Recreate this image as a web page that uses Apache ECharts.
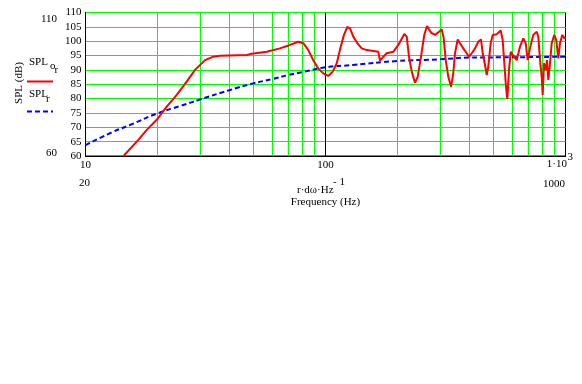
<!DOCTYPE html>
<html>
<head>
<meta charset="utf-8">
<script src="https://cdn.jsdelivr.net/npm/echarts@6/dist/echarts.min.js"></script>
<style>html,body{margin:0;padding:0;background:#fff}#c{width:582px;height:384px}</style>
</head>
<body>
<div id="c"></div>
<script>
// SPL_o_r (red) : frequency (Hz) and level (dB)
var freqOr = [14.4,16.6,18.0,19.9,21.8,24.0,26.4,28.6,31.5,34.1,36.3,47.0,48.5,56.9,64.6,71.1,77.0,80.8,84.8,88.9,93.3,
  94.9,97.9,102.7,107.2,111.4,115.7,119.4,123.3,126.5,130.6,135.7,141.5,148.5,158.2,166,168.7,174.1,179.9,191.6,201.1,
  204.4,213,218,222.8,228.7,236,242.2,250,258,264.8,275.2,286,297.2,305,310.9,316.9,324.9,333.4,340.8,346.4,355.5,363.4,375.2,387.6,396.3,406.7,419.7,
  433.2,444.6,451.9,462,469.6,476.8,487.9,497.4,516.8,537,547.4,555.9,565.1,572.2,581.6,591.2,602.6,616,626.2,
  646.2,667.1,682.7,695.8,711.4,734.2,758.6,770.4,783.1,795.8,803.5,813.6,827,837.4,847.9,859.5,876.1,898.3,915.5,933.3,948.6,969.8,988.6,1000];
var splOr = [60,65.6,69.1,72.8,77.2,81.3,85.9,90,93.4,94.6,94.95,95.2,95.5,96.3,97.5,98.7,99.8,99.3,96.9,93.4,90.5,
  90.5,88.8,87.9,89.4,92.3,98.1,102.2,105,104.5,101.6,99.3,97.5,96.9,96.6,96.3,93.2,94.6,95.8,96.3,98.7,
  99.3,102.5,101.6,94.6,89.4,85.5,87.6,94.6,102.2,105.3,103,102.2,103.3,104.1,101,93.4,87.6,84.1,88.8,95.8,100.6,99.3,97.5,95.8,94.6,95.8,97.5,
  99.8,100.6,95.8,91.7,88.2,91.1,99.3,102.2,102.4,103.7,100.4,92.3,84.1,79.8,90,96.3,96.9,94.1,93.4,
  98.1,101,99.3,93.4,97.5,102.2,103.3,101.6,93.4,87.6,81.3,92.3,90,93.4,86.5,91.1,99.3,102.2,100.4,94,99.3,102.2,101,101.5];
// SPL_r (blue dashed)
var freqR = [10,13,15.3,20,25,30,40,50,60,70,80,100,130,200,300,400,600,1000];
var splR = [63.8,68.4,70.8,74.9,77.5,79.7,83,85.3,86.8,88.2,89.2,90.9,91.7,93.1,93.7,94.3,94.4,94.6];
// vertical grid frequencies
var gridFreqs = [20,30,40,50,60,70,80,90,200,300,400,500,600,700,800,900];
var blackFreqs = [100];
var yTicks = {min:60, max:110, step:5};
var xTickLabels = {10:'10', 100:'100'};

function zip(a,b){return a.map(function(v,i){return [v,b[i]];});}
var FONT = 'Liberation Serif, Times New Roman, serif';
var GREEN = '#00ff00';
function vlineSeries(freqs, color, z){
  return {type:'custom', silent:true, z:z, clip:false,
    data: freqs.map(function(f){return [f, yTicks.min];}),
    renderItem:function(params, api){
      var top = api.coord([api.value(0), yTicks.max]);
      var bot = api.coord([api.value(0), yTicks.min]);
      var x = Math.round(top[0]-0.5)+0.5;
      return {type:'line', shape:{x1:x, y1:top[1], x2:x, y2:bot[1]}, style:{stroke:color, lineWidth:1}};
    }};
}
var chart = echarts.init(document.getElementById('c'), null, {renderer:'canvas'});
chart.setOption({
  animation:false,
  grid:{left:85.5, right:16.5, top:12.5, bottom:228, show:true, borderColor:'#000', borderWidth:1, backgroundColor:'transparent'},
  xAxis:{type:'log', logBase:10, min:10, max:1000,
    axisLine:{show:true, lineStyle:{color:'#000'}}, axisTick:{show:false},
    splitLine:{show:false}, minorSplitLine:{show:false}, minorTick:{show:false},
    axisLabel:{margin:4, color:'#000', fontFamily:FONT, fontSize:11,
      formatter:function(v){ var k = Math.round(v); return xTickLabels[k] || ''; }}
  },
  yAxis:{type:'value', min:yTicks.min, max:yTicks.max, interval:yTicks.step,
    axisLine:{show:true, lineStyle:{color:'#000'}}, axisTick:{show:false},
    splitLine:{show:true, lineStyle:{color:GREEN, width:1}},
    axisLabel:{margin:4, color:'#000', fontFamily:FONT, fontSize:11}
  },
  series:[
    vlineSeries(gridFreqs, GREEN, 1),
    vlineSeries(blackFreqs, '#000000', 1),
    {type:'line', name:'SPLr', data:zip(freqR,splR), smooth:true, showSymbol:false, z:3,
      lineStyle:{color:'#0000ff', width:2, type:[5,3]}},
    {type:'line', name:'SPLor', data:zip(freqOr,splOr), smooth:false, showSymbol:false, z:4,
      lineStyle:{color:'#ff0000', width:2}}
  ],
  graphic:[
    {type:'text', x:567, y:164.5, style:{text:'1·10', font:'11px '+FONT, fill:'#000', align:'right', verticalAlign:'middle'}},
    {type:'text', x:567.5, y:157, style:{text:'3', font:'11px '+FONT, fill:'#000', align:'left', verticalAlign:'middle'}},
    {type:'text', x:57, y:19.5, style:{text:'110', font:'11px '+FONT, fill:'#000', align:'right', verticalAlign:'middle'}},
    {type:'text', x:57, y:153.5, style:{text:'60', font:'11px '+FONT, fill:'#000', align:'right', verticalAlign:'middle'}},
    {type:'text', x:79, y:183.5, style:{text:'20', font:'11px '+FONT, fill:'#000', align:'left', verticalAlign:'middle'}},
    {type:'text', x:565, y:184, style:{text:'1000', font:'11px '+FONT, fill:'#000', align:'right', verticalAlign:'middle'}},
    {type:'text', x:297, y:190, style:{text:'r·dω·Hz', font:'11px '+FONT, fill:'#000', align:'left', verticalAlign:'middle'}},
    {type:'text', x:333, y:182.5, style:{text:'- 1', font:'11px '+FONT, fill:'#000', align:'left', verticalAlign:'middle'}},
    {type:'text', x:325.5, y:202.5, style:{text:'Frequency (Hz)', font:'11px '+FONT, fill:'#000', align:'center', verticalAlign:'middle'}},
    {type:'text', x:19, y:83, rotation:Math.PI/2, style:{text:'SPL (dB)', font:'11px '+FONT, fill:'#000', align:'center', verticalAlign:'middle'}},
    {type:'text', x:29, y:62, style:{text:'SPL', font:'11px '+FONT, fill:'#000', align:'left', verticalAlign:'middle'}},
    {type:'text', x:50, y:66.5, style:{text:'o', font:'11px '+FONT, fill:'#000', align:'left', verticalAlign:'middle'}},
    {type:'text', x:54.5, y:70.5, style:{text:'r', font:'11px '+FONT, fill:'#000', align:'left', verticalAlign:'middle'}},
    {type:'line', shape:{x1:27, y1:81.5, x2:53, y2:81.5}, style:{stroke:'#ff0000', lineWidth:2}},
    {type:'text', x:29, y:94, style:{text:'SPL', font:'11px '+FONT, fill:'#000', align:'left', verticalAlign:'middle'}},
    {type:'text', x:46, y:99.5, style:{text:'r', font:'11px '+FONT, fill:'#000', align:'left', verticalAlign:'middle'}},
    {type:'line', shape:{x1:27, y1:111.5, x2:53, y2:111.5}, style:{stroke:'#0000ff', lineWidth:2, lineDash:[5,3]}}
  ]
});
</script>
</body>
</html>
